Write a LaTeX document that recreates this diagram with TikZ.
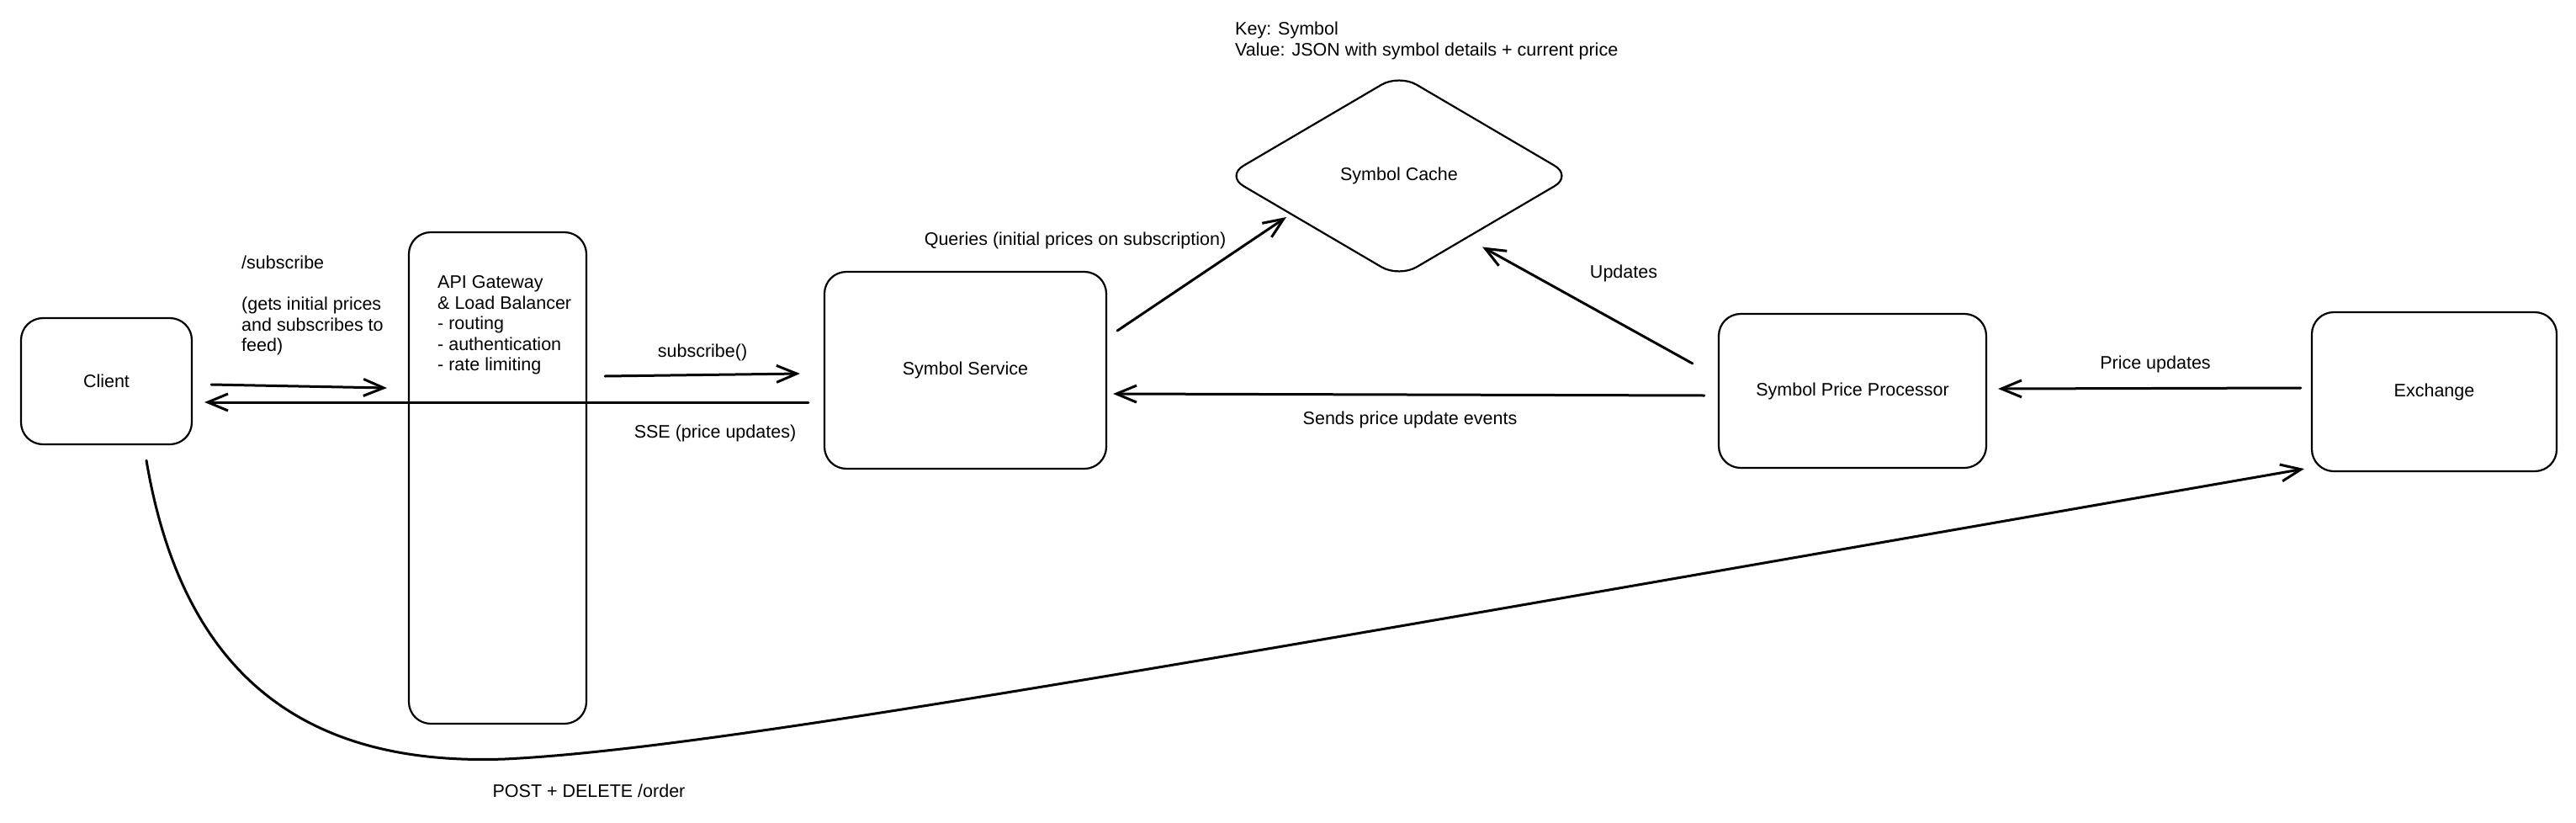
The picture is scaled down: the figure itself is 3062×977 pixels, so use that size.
\documentclass[tikz,border=0pt]{standalone}
\usepackage{fontspec}
\setmainfont{Liberation Sans}
\usetikzlibrary{arrows.meta,shapes.geometric}
\tikzset{
  box/.style={draw, line width=2.2pt, rounded corners=26pt, inner sep=0pt, align=center},
  arr/.style={line width=3pt, line cap=round, -{Straight Barb[length=24pt,width=20pt,line width=3pt]}},
  lbl/.style={inner sep=0pt, anchor=base},
  blk/.style={inner sep=0pt, anchor=north west, align=left},
}
\begin{document}
\begin{tikzpicture}[x=1pt,y=-1pt, font=\fontsize{21.5}{24.6}\selectfont]
\fill[white] (0,0) rectangle (3062,977);
\useasboundingbox (0,0) rectangle (3062,977);

% nodes
\node[box, minimum width=203pt, minimum height=150pt] (client) at (126.5,453) {Client};
\node[box, minimum width=211pt, minimum height=584pt] (gw) at (591.5,568) {};
\node[blk] (gwtext) at (520,325) {\strut API Gateway\\\& Load Balancer\\- routing\\- authentication\\- rate limiting};
\node[box, minimum width=335pt, minimum height=234pt] (svc) at (1147.5,440) {Symbol Service};
\node[draw, diamond, line width=2.2pt, minimum width=412pt, minimum height=242pt, inner sep=0pt, rounded corners=24pt] (cache) at (1663,209) {Symbol Cache};
\node[box, minimum width=318pt, minimum height=183pt] (spp) at (2202,464.5) {Symbol Price Processor};
\node[box, minimum width=291pt, minimum height=189pt] (ex) at (2893.5,465.5) {Exchange};

% text blocks
\node[blk] (sublbl) at (287,302) {\strut /subscribe\\[24.6pt](gets initial prices\\and subscribes to\\feed)};
\node[blk] (key) at (1468,24) {\strut Key: Symbol\\Value: JSON with symbol details + current price};

% connectors
\draw[arr] ([shift={(22,4)}]client.east) -- ([shift={(-25,-107)}]gw.west);
\draw[arr] ([shift={(-18,38)}]svc.west) -- ([shift={(14,25)}]client.east);
\draw[arr] ([shift={(21,-121)}]gw.east) -- ([shift={(-28,4)}]svc.west);
\draw[arr] ([shift={(12,-47)}]svc.east) -- ([shift={(-134,49)}]cache.center);
\draw[arr] ([shift={(-30,-32.5)}]spp.west) -- ([shift={(99,84.5)}]cache.center);
\draw[arr] ([shift={(-16,5.5)}]spp.west) -- ([shift={(7,28)}]svc.east);
\draw[arr] ([shift={(-12,-4.5)}]ex.west) -- ([shift={(13,-2.5)}]spp.east);
\draw[arr] ([shift={(47.5,18)}]client.south) .. controls (220,820) and (380,910) .. (600,902)
  .. controls (850,890) and (1400,790) .. ([shift={(-8,-4)}]ex.south west);

% labels
\node[lbl] (l1) at (835,424) {subscribe()};
\node[lbl] (l2) at (850,520) {SSE (price updates)};
\node[lbl] (l3) at (1278,291) {Queries (initial prices on subscription)};
\node[lbl] (l4) at (1930,330) {Updates};
\node[lbl] (l5) at (1676,504) {Sends price update events};
\node[lbl] (l6) at (2562,438) {Price updates};
\node[lbl] (l7) at (700,947) {POST + DELETE /order};
\end{tikzpicture}
\end{document}
